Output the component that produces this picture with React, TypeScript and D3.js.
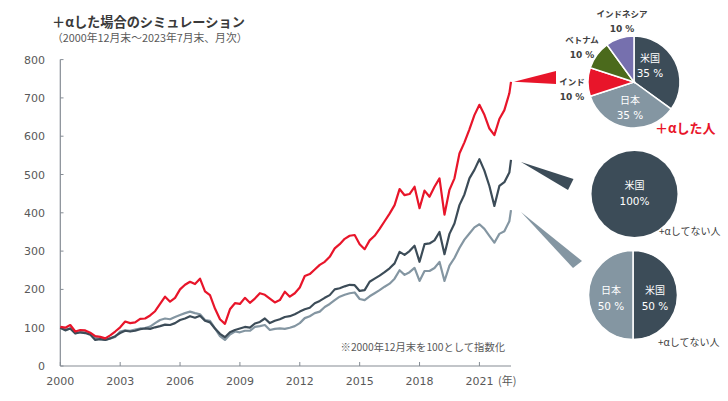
import React from "react";
import * as d3 from "d3";

// time in years since 2000年12月末, quarterly, last point = 2023年7月末
const tYears: number[] = [
  0, 0.25, 0.5, 0.75, 1, 1.25, 1.5, 1.75, 2, 2.25, 2.5, 2.75, 3, 3.25, 3.5, 3.75, 4, 4.25, 4.5, 4.75,
  5, 5.25, 5.5, 5.75, 6, 6.25, 6.5, 6.75, 7, 7.25, 7.5, 7.75, 8, 8.25, 8.5, 8.75, 9, 9.25, 9.5, 9.75,
  10, 10.25, 10.5, 10.75, 11, 11.25, 11.5, 11.75, 12, 12.25, 12.5, 12.75, 13, 13.25, 13.5, 13.75,
  14, 14.25, 14.5, 14.75, 15, 15.25, 15.5, 15.75, 16, 16.25, 16.5, 16.75, 17, 17.25, 17.5, 17.75,
  18, 18.25, 18.5, 18.75, 19, 19.25, 19.5, 19.75, 20, 20.25, 20.5, 20.75, 21, 21.25, 21.5, 21.75,
  22, 22.25, 22.5, 22.583,
];

const plusAlpha: number[] = [
  102, 100, 107, 90, 94, 93, 87, 78, 76, 72, 80, 90, 101, 116, 112, 114, 123, 124, 132, 143,
  162, 181, 168, 178, 200, 212, 220, 214, 228, 195, 185, 150, 122, 110, 148, 164, 162, 178, 165, 176,
  190, 186, 176, 166, 172, 194, 181, 190, 205, 235, 240, 252, 264, 272, 285, 307,
  318, 332, 340, 342, 318, 305, 328, 340, 358, 378, 398, 420, 462, 446, 449, 468,
  412, 458, 442, 468, 490, 395, 460, 490, 555, 584, 618, 655, 682, 656, 620, 603,
  645, 668, 712, 742,
];

const usOnly: number[] = [
  100, 93, 98, 85, 88, 86, 82, 68, 70, 68, 72, 78, 86, 92, 90, 92, 96, 98, 97, 101,
  104, 108, 107, 112, 120, 124, 130, 126, 131, 118, 114, 98, 84, 75, 88, 94, 98, 102, 100, 111,
  115, 124, 112, 118, 122, 128, 130, 135, 142, 148, 152, 164, 170, 178, 185, 200,
  203, 208, 212, 211, 196, 198, 220, 228, 236, 245, 255, 268, 298, 290, 300, 314,
  272, 318, 320, 328, 350, 292, 345, 372, 420, 448, 490, 512, 540, 510, 470, 418,
  470, 480, 505, 538,
];

const usJapan: number[] = [
  100, 95, 98, 86, 88, 88, 84, 74, 70, 68, 72, 76, 90, 93, 92, 95, 98, 99, 103, 112,
  120, 124, 122, 128, 133, 138, 142, 138, 135, 120, 118, 98, 78, 68, 82, 90, 88, 92, 92, 102,
  104, 107, 94, 97, 98, 97, 100, 104, 112, 125, 130, 138, 142, 154, 162, 172,
  181, 186, 190, 192, 175, 172, 182, 190, 198, 207, 215, 228, 250, 238, 245, 256,
  222, 248, 248, 256, 272, 222, 262, 282, 308, 330, 346, 362, 370, 358, 340, 322,
  345, 352, 378, 407,
];

const xTickValues: number[] = [0, 3, 6, 9, 12, 15, 18, 21];
const xTickLabels: string[] = ["2000", "2003", "2006", "2009", "2012", "2015", "2018", "2021"];
const yTickValues: number[] = [0, 100, 200, 300, 400, 500, 600, 700, 800];

const pie1Labels: string[] = ["米国", "日本", "インド", "ベトナム", "インドネシア"];
const pie1Values: number[] = [35, 35, 10, 10, 10];
const pie2Labels: string[] = ["米国"];
const pie2Values: number[] = [100];
const pie3Labels: string[] = ["米国", "日本"];
const pie3Values: number[] = [50, 50];

const RED = "#e8152a";
const DARK = "#3c4c58";
const GRAY = "#8496a2";
const GREEN = "#4b6a1c";
const PURPLE = "#7670ae";
const pie1Colors = [DARK, GRAY, RED, GREEN, PURPLE];

const JP = "'Noto Sans CJK JP', 'Noto Sans', sans-serif";
const NUM = "'DejaVu Sans', sans-serif";

export default function App() {
  const x = d3.scaleLinear().domain([0, 22.583]).range([60.3, 511]);
  const y = d3.scaleLinear().domain([0, 800]).range([366, 59.6]);
  const mk = (vals: number[]) =>
    d3.line<number>().x((_, i) => x(tYears[i])).y((v) => y(v))(vals) || "";

  const pieGen = d3.pie<number>().sort(null).value((d) => d);
  const arc = (r: number) => d3.arc<d3.PieArcDatum<number>>().innerRadius(0).outerRadius(r);

  const p1 = { cx: 634, cy: 82, r: 46 };
  const p2 = { cx: 634.5, cy: 194, r: 43 };
  const p3 = { cx: 633, cy: 295, r: 44.5 };

  const last = tYears.length - 1;
  const ex = x(tYears[last]);

  const p1Arcs = pieGen(pie1Values);
  const p3Arcs = pieGen(pie3Values);

  const p1LabelPos = [
    { x: 650, y: 62, inside: true },
    { x: 630, y: 104, inside: true },
    { x: 572, y: 85, inside: false },
    { x: 582, y: 43, inside: false },
    { x: 622, y: 17, inside: false },
  ];

  return (
    <svg width={728} height={401} style={{ position: "absolute", left: 0, top: 0, background: "#fff" }}>
      {/* titles */}
      <text x={52} y={26.5} fontFamily={JP} fontWeight={700} fontSize={13.2} fill="#3a3a3a">
        ＋αした場合のシミュレーション
      </text>
      <text x={52} y={42} fontFamily={JP} fontSize={10.8} fill="#595959">
        （2000年12月末～2023年7月末、月次）
      </text>

      {/* y axis */}
      <line x1={60.3} x2={60.3} y1={y(800)} y2={y(0)} stroke="#858c94" strokeWidth={1.2} />
      {yTickValues.map((v) => (
        <g key={"y" + v}>
          <line x1={60.3} x2={63.5} y1={y(v)} y2={y(v)} stroke="#858c94" strokeWidth={1} />
          <text x={45} y={y(v) + 4} textAnchor="end" fontFamily={NUM} fontSize={11} fill="#595959">
            {v}
          </text>
        </g>
      ))}
      {/* x axis */}
      <line x1={60.3} x2={511} y1={y(0)} y2={y(0)} stroke="#858c94" strokeWidth={1.2} />
      {xTickValues.map((t, i) => (
        <g key={"x" + t}>
          <line x1={x(t)} x2={x(t)} y1={y(0)} y2={y(0) - 4} stroke="#858c94" strokeWidth={1} />
          <text x={x(t)} y={385} textAnchor="middle" fontFamily={NUM} fontSize={11} fill="#595959">
            {xTickLabels[i]}
          </text>
        </g>
      ))}
      <text x={498} y={385} fontFamily={JP} fontSize={11} fill="#595959">(年)</text>

      <text x={505} y={351} textAnchor="end" fontFamily={JP} fontSize={10.3} fill="#595959">
        ※2000年12月末を100として指数化
      </text>

      {/* lines */}
      <path d={mk(usJapan)} fill="none" stroke={GRAY} strokeWidth={2.2} strokeLinejoin="round" />
      <path d={mk(usOnly)} fill="none" stroke={DARK} strokeWidth={2.2} strokeLinejoin="round" />
      <path d={mk(plusAlpha)} fill="none" stroke={RED} strokeWidth={2.2} strokeLinejoin="round" />

      {/* connectors */}
      <polygon points={`${ex + 3},${y(plusAlpha[last])} 556,71 556,84`} fill={RED} />
      <polygon points={`${ex + 10},${y(usOnly[last]) + 2} 573.5,179 568,190`} fill={DARK} />
      <polygon points={`${ex + 10},${y(usJapan[last]) + 2} 582,261 573,268`} fill={GRAY} />

      {/* pie 1 */}
      <g transform={`translate(${p1.cx},${p1.cy})`}>
        {p1Arcs.map((a, i) => (
          <path key={i} d={arc(p1.r)(a) || ""} fill={pie1Colors[i]} stroke="#fff" strokeWidth={1.5} />
        ))}
      </g>
      {p1LabelPos.map((p, i) => (
        <g key={"l1" + i}>
          <text
            x={p.x}
            y={p.y}
            textAnchor="middle"
            fontFamily={JP}
            fontSize={p.inside ? 10 : 8.5}
            fontWeight={p.inside ? 400 : 700}
            fill={p.inside ? "#fff" : "#404040"}
          >
            {pie1Labels[i]}
          </text>
          <text
            x={p.x}
            y={p.y + 15}
            textAnchor="middle"
            fontFamily={NUM}
            fontSize={p.inside ? 10.5 : 9}
            fontWeight={p.inside ? 400 : 700}
            fill={p.inside ? "#fff" : "#404040"}
          >
            {pie1Values[i]} %
          </text>
        </g>
      ))}
      <text x={655} y={133} fontFamily={JP} fontWeight={700} fontSize={13} fill={RED}>
        ＋αした人
      </text>

      {/* pie 2 */}
      <circle cx={p2.cx} cy={p2.cy} r={p2.r} fill={DARK} />
      <text x={p2.cx} y={p2.cy - 5} textAnchor="middle" fontFamily={JP} fontSize={10} fill="#fff">
        {pie2Labels[0]}
      </text>
      <text x={p2.cx} y={p2.cy + 11} textAnchor="middle" fontFamily={NUM} fontSize={10.5} fill="#fff">
        {pie2Values[0]}%
      </text>
      <text x={659} y={235} fontFamily={JP} fontSize={10} fill="#404040">
        +αしてない人
      </text>

      {/* pie 3 */}
      <g transform={`translate(${p3.cx},${p3.cy})`}>
        {p3Arcs.map((a, i) => (
          <path key={i} d={arc(p3.r)(a) || ""} fill={i === 0 ? DARK : GRAY} stroke="#fff" strokeWidth={1.5} />
        ))}
      </g>
      {[1, -1].map((s, i) => (
        <g key={"l3" + i}>
          <text x={p3.cx + s * 22} y={p3.cy - 1} textAnchor="middle" fontFamily={JP} fontSize={10} fill="#fff">
            {pie3Labels[i]}
          </text>
          <text x={p3.cx + s * 22} y={p3.cy + 15} textAnchor="middle" fontFamily={NUM} fontSize={10.5} fill="#fff">
            {pie3Values[i]} %
          </text>
        </g>
      ))}
      <text x={658} y={346} fontFamily={JP} fontSize={10} fill="#404040">
        +αしてない人
      </text>
    </svg>
  );
}
